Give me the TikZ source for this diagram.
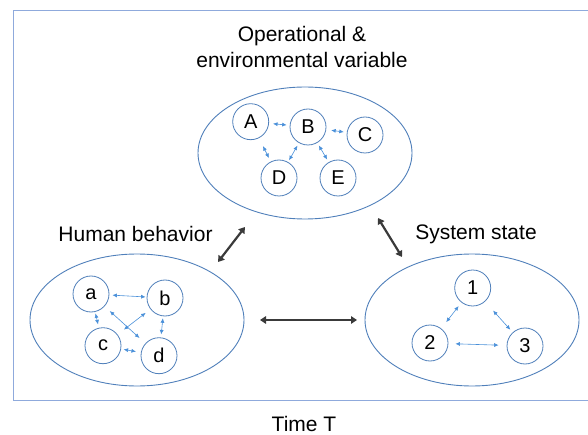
\documentclass[tikz,border=0pt]{standalone}
\usepackage{fontspec}
\setmainfont{Liberation Sans}
\usetikzlibrary{arrows.meta,shapes.geometric}
\definecolor{framecol}{HTML}{8FAADC}
\definecolor{ringcol}{HTML}{4F7FBA}
\definecolor{linkcol}{HTML}{4A90D9}
\definecolor{flowcol}{HTML}{3A3A3A}
\begin{document}
\begin{tikzpicture}[x=1pt,y=-1pt,
  group/.style={draw=ringcol, line width=0.9pt, ellipse, minimum width=214pt, minimum height=132pt, inner sep=0pt},
  var/.style={draw=ringcol, line width=0.8pt, circle, minimum size=36pt, inner sep=0pt, font=\fontsize{20}{20}\selectfont},
  link/.style={draw=linkcol, line width=0.6pt, {Latex[length=4.5pt,width=4pt]}-{Latex[length=4.5pt,width=4pt]}},
  flow/.style={draw=flowcol, line width=2.2pt, {Triangle[length=6pt,width=7.5pt]}-{Triangle[length=6pt,width=7.5pt]}},
  heading/.style={font=\fontsize{21}{26}\selectfont, align=center, anchor=base, inner sep=0pt}
]
\useasboundingbox (0,0) rectangle (588,435);

% outer time frame, open to the right
\draw[framecol, line width=1pt] (590,11) -- (13.5,11) -- (13.5,400) -- (590,400);

% the three groups
\node[group] (ops) at (305,153) {};
\node[group] (hum) at (137,320) {};
\node[group] (sys) at (472,320) {};

% group titles (a two-line node sits on its last baseline)
\node[heading] (opst) at (302,68) {Operational \&\\environmental variable};
\node[heading] (humt) at (135.5,242) {Human behavior};
\node[heading] (syst) at (476,240) {System state};
\node[heading] (time) at (304,431) {Time T};

% operational / environmental variables
\node[var] (A) at (250.7,121.7) {A};
\node[var] (B) at (308,127) {B};
\node[var] (C) at (365,135) {C};
\node[var] (D) at (279,178) {D};
\node[var] (E) at (338,178) {E};

\draw[link, shorten <=4pt, shorten >=3pt] (A) -- (B);
\draw[link, shorten <=5pt, shorten >=3pt] (B) -- (C);
\draw[link, shorten <=9pt, shorten >=4pt] (A) -- (D);
\draw[link, shorten <=3pt, shorten >=2pt] (B) -- (D);
\draw[link, shorten <=3pt, shorten >=3pt] (B) -- (E);

% human behavior variables
\node[var] (a) at (91,294) {a};
\node[var] (b) at (165,298) {b};
\node[var] (c) at (103,345.7) {c};
\node[var] (d) at (159,355.7) {d};

\draw[link, shorten <=3pt, shorten >=1pt] (a) -- (b);
\draw[link, shorten <=1.5pt, shorten >=3.5pt] (a) -- (c);
\draw[link, shorten <=7pt, shorten >=8pt] (a) -- (d);
\draw[link, shorten <=6pt, shorten >=8pt] (b) -- (c);
\draw[link, shorten <=2pt, shorten >=3pt] (b) -- (d);
\draw[link, shorten <=2.5pt, shorten >=5pt] (c) -- (d);

% system state variables
\node[var] (s1) at (472.7,288) {1};
\node[var] (s2) at (430,343) {2};
\node[var] (s3) at (525,346) {3};

\draw[link, shorten <=4.5pt, shorten >=8pt] (s1) -- (s2);
\draw[link, shorten <=12pt, shorten >=3.5pt] (s1) -- (s3);
\draw[link, shorten <=7pt, shorten >=8pt] (s2) -- (s3);

% interactions between the groups
\coordinate (hum-ops) at (218,262);
\coordinate (ops-hum) at (245,227);
\coordinate (ops-sys) at (378,218);
\coordinate (sys-ops) at (402,257);
\coordinate (hum-sys) at (260,320);
\coordinate (sys-hum) at (357,320);
\draw[flow] (hum-ops) -- (ops-hum);
\draw[flow] (ops-sys) -- (sys-ops);
\draw[flow] (hum-sys) -- (sys-hum);
\end{tikzpicture}
\end{document}
